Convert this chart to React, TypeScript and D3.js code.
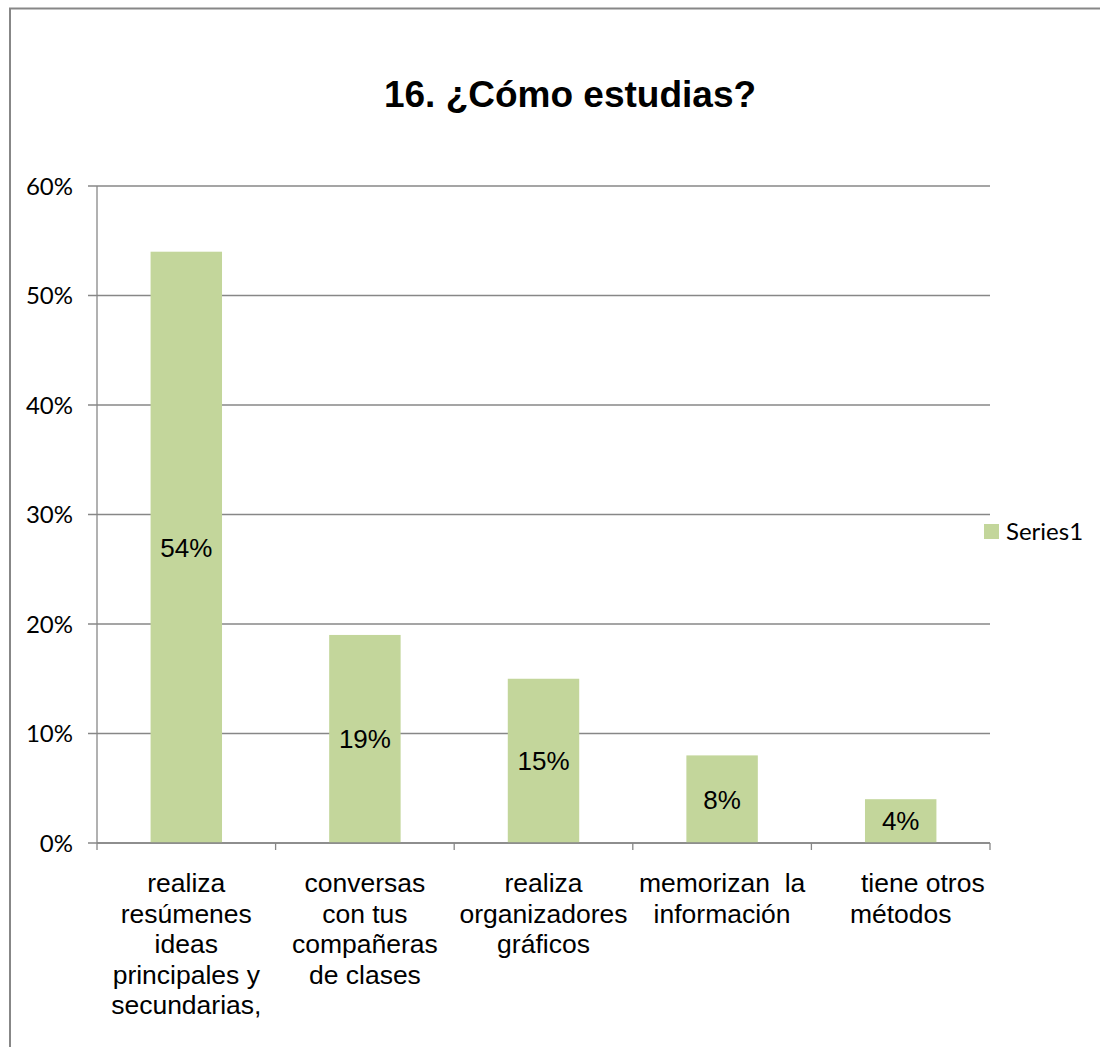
import React from 'react';
import * as d3 from 'd3';

const title = '16. ¿Cómo estudias?';
const categories = [
  ['realiza', 'resúmenes', 'ideas', 'principales y', 'secundarias,'],
  ['conversas', 'con tus', 'compañeras', 'de clases'],
  ['realiza', 'organizadores', 'gráficos'],
  ['memorizan  la', 'información'],
  ['      tiene otros', 'métodos'],
];
const values = [0.54, 0.19, 0.15, 0.08, 0.04];
const yTicks = [0, 0.1, 0.2, 0.3, 0.4, 0.5, 0.6];
const seriesName = 'Series1';

const W = 1100;
const H = 1047;
const plot = { left: 97, right: 990, top: 186, bottom: 843 };
const barColor = '#c3d69b';
const lineColor = '#878787';

const App: React.FC = () => {
  const x = d3.scaleBand<number>()
    .domain(values.map((_, i) => i))
    .range([plot.left, plot.right])
    .paddingInner(0.6)
    .paddingOuter(0.3);
  const band = d3.scaleBand<number>()
    .domain(values.map((_, i) => i))
    .range([plot.left, plot.right]);
  const y = d3.scaleLinear().domain([0, 0.6]).range([plot.bottom, plot.top]);
  const pct = d3.format('.0%');

  return (
    <div style={{ position: 'absolute', left: 0, top: 0 }}>
      <svg width={W} height={H} style={{ display: 'block', background: '#fff' }}>
        <rect x={10} y={8.5} width={W + 20} height={H + 20} fill="#fff" stroke={lineColor} strokeWidth={2} />
        <text x={570} y={107} textAnchor="middle" fontFamily="Liberation Sans, Arial" fontWeight="bold" fontSize={37}>
          {title}
        </text>

        {/* gridlines + y ticks */}
        {yTicks.map(t => (
          <g key={t}>
            <line x1={plot.left - 9} x2={plot.right} y1={y(t)} y2={y(t)} stroke={lineColor} strokeWidth={1.3} />
            <text x={73} y={y(t)} dy="0.36em" textAnchor="end" fontFamily="Lato" fontSize={24} fill="#000">
              {pct(t)}
            </text>
          </g>
        ))}

        {/* y axis */}
        <line x1={plot.left} x2={plot.left} y1={plot.top} y2={plot.bottom} stroke={lineColor} strokeWidth={1.3} />

        {/* bars */}
        {values.map((v, i) => (
          <g key={i}>
            <rect x={x(i)} y={y(v)} width={x.bandwidth()} height={plot.bottom - y(v)} fill={barColor} />
            <text x={x(i)! + x.bandwidth() / 2} y={(y(v) + plot.bottom) / 2} dy="0.36em" textAnchor="middle"
              fontFamily="Liberation Sans, Arial" fontSize={26} fill="#000">
              {pct(v)}
            </text>
          </g>
        ))}

        {/* x axis */}
        <line x1={plot.left} x2={plot.right} y1={plot.bottom} y2={plot.bottom} stroke={lineColor} strokeWidth={1.3} />
        {[...values.map((_, i) => band(i)!), plot.right].map((bx, i) => (
          <line key={i} x1={bx} x2={bx} y1={plot.bottom} y2={plot.bottom + 7} stroke={lineColor} strokeWidth={1.3} />
        ))}
        {categories.map((lines, i) => (
          <text key={i} textAnchor="middle" fontFamily="Liberation Sans, Arial" fontSize={26.5} fill="#000"
            style={{ whiteSpace: 'pre' }}>
            {lines.map((l, j) => (
              <tspan key={j} x={band(i)! + band.bandwidth() / 2} y={892 + j * 30.5}>{l}</tspan>
            ))}
          </text>
        ))}

        {/* legend */}
        <rect x={984} y={524} width={15} height={15} fill={barColor} />
        <text x={1006} y={531.5} dy="0.36em" fontFamily="Lato" fontSize={24} fill="#000">{seriesName}</text>
      </svg>
    </div>
  );
};

export default App;
